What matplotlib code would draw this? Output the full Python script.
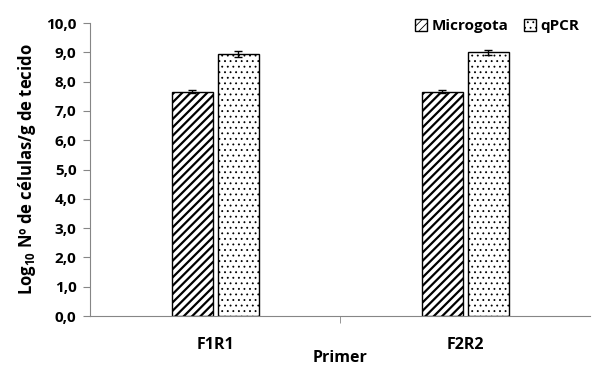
import numpy as np
import matplotlib
matplotlib.use('Agg')
from matplotlib import pyplot as plt
from matplotlib.ticker import FixedLocator

plt.rcParams['font.family'] = ['Open Sans', 'DejaVu Sans']
plt.rcParams['font.weight'] = 'bold'
plt.rcParams['mathtext.fontset'] = 'custom'
plt.rcParams['mathtext.bf'] = 'Open Sans:bold'
plt.rcParams['mathtext.rm'] = 'Open Sans:bold'

# Data
primers = ['F1R1', 'F2R2']
microgota = [7.65, 7.65]
microgota_err = [0.05, 0.05]
qpcr = [8.95, 9.0]
qpcr_err = [0.1, 0.08]

fig = plt.figure(figsize=(5.95, 3.68), dpi=100)
ax = fig.add_axes([0.152, 0.1413, 0.840, 0.796])

x = np.arange(len(primers))
w = 0.164
gap = 0.01
ekw = dict(ecolor='black', elinewidth=1, capsize=3, capthick=1)

plt.rcParams['hatch.linewidth'] = 1.6
ax.bar(x - w/2 - gap, microgota, w, yerr=microgota_err, color='white', edgecolor='black',
       hatch='////', linewidth=1, label='Microgota', error_kw=ekw)
plt.rcParams['hatch.linewidth'] = 0.6
ax.bar(x + w/2 + gap, qpcr, w, yerr=qpcr_err, color='white', edgecolor='black',
       hatch='...', linewidth=1, label='qPCR', error_kw=ekw)

ax.set_xlim(-0.5, len(primers) - 0.5)
ax.set_ylim(0, 10)
ax.set_yticks(np.arange(0, 11))
ax.set_yticklabels([f"{v:.1f}".replace('.', ',') for v in np.arange(0, 11)])
ax.set_xticks(x)
ax.set_xticklabels(primers, fontsize=11.5, fontweight='bold')
ax.xaxis.set_minor_locator(FixedLocator([0.5]))
ax.tick_params(axis='x', which='major', length=0, pad=15)
ax.tick_params(axis='x', which='minor', length=5, color='#868686')
ax.tick_params(axis='y', length=5, color='#868686', labelsize=11, pad=5)
for lbl in ax.get_yticklabels():
    lbl.set_fontweight('bold')

for s in ['top', 'right']:
    ax.spines[s].set_visible(False)
for s in ['left', 'bottom']:
    ax.spines[s].set_color('#868686')

ax.set_xlabel('Primer', fontsize=11.5, fontweight='bold', labelpad=-2)
ax.set_ylabel(r'Log$_{\mathbf{10}}$ Nº de células/g de tecido', fontsize=12,
              fontweight='bold', labelpad=6)

ax.legend(loc='upper right', bbox_to_anchor=(1.0, 1.05), ncol=2, frameon=False,
          prop={'weight': 'bold', 'size': 11}, handlelength=0.8, handleheight=0.8,
          handletextpad=0.3, columnspacing=1.0, borderpad=0.2)

fig.savefig('out.png', dpi=100)
